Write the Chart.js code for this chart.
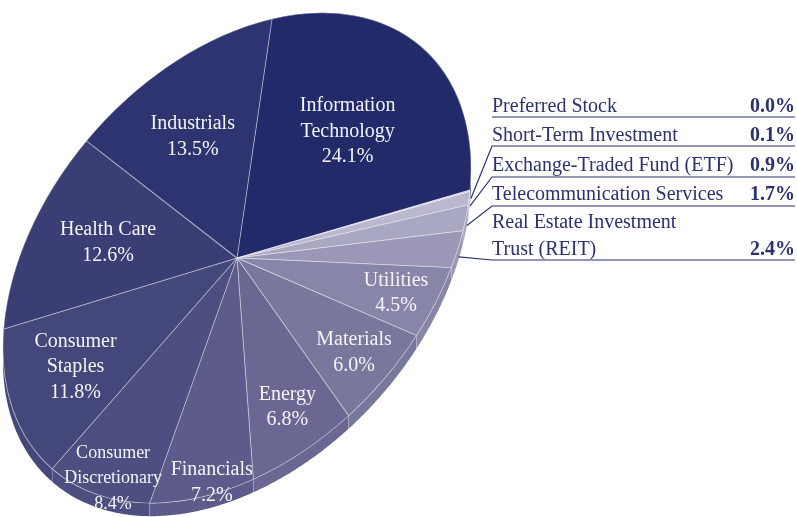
<!DOCTYPE html>
<html lang="en">
<head>
<meta charset="UTF-8">
<title>Sector Allocation</title>
<script src="https://cdn.jsdelivr.net/npm/chart.js"></script>
<style>
    body { margin: 0; background: #ffffff; }
    .wrap { width: 797px; height: 517px; }
</style>
</head>
<body>
<div class="wrap"><canvas id="sectorChart" width="797" height="517"></canvas></div>
<script>
// slices run clockwise from 12 o'clock, starting with Information Technology
const sectors = ['Information Technology', 'Preferred Stock', 'Short-Term Investment',
    'Exchange-Traded Fund (ETF)', 'Telecommunication Services', 'Real Estate Investment Trust (REIT)',
    'Utilities', 'Materials', 'Energy', 'Financials', 'Consumer Discretionary',
    'Consumer Staples', 'Health Care', 'Industrials'];
const weights = [24.1, 0.0, 0.1, 0.9, 1.7, 2.4, 4.5, 6.0, 6.8, 7.2, 8.4, 11.8, 12.6, 13.5];
const sliceColors = ['#222a69', '#d2d1e1', '#c8c7da', '#b9b8cf', '#a9a8c2', '#9a98b6',
    '#8886a8', '#78779c', '#6a6892', '#5c5b89', '#4e4f81', '#44477a', '#3a3e75', '#2e346f'];

// text shown inside the pie (index -> lines before the percentage)
const insideText = {
    0: ['Information', 'Technology'],
    6: ['Utilities'],
    7: ['Materials'],
    8: ['Energy'],
    9: ['Financials'],
    10: ['Consumer', 'Discretionary'],
    11: ['Consumer', 'Staples'],
    12: ['Health Care'],
    13: ['Industrials']
};
// text shown in the call-out list on the right
const calloutText = {
    1: ['Preferred Stock'],
    2: ['Short-Term Investment'],
    3: ['Exchange-Traded Fund (ETF)'],
    4: ['Telecommunication Services'],
    5: ['Real Estate Investment', 'Trust (REIT)']
};

// look of the tilted disc
const pieCenter = [237, 258];
const tiltA = [35, -239];      // screen vector for 12 o'clock
const tiltB = [231.4, -54.6];  // screen vector for 3 o'clock
const depth = 13;

// label placement: radius fraction, font size, nudge
const insideStyle = {
    0: { f: 0.6, size: 20 }, 6: { f: 0.8, size: 20 }, 7: { f: 0.79, size: 20 },
    8: { f: 0.77, size: 20 }, 9: { f: 0.94, size: 20, dx: 9 }, 10: { f: 0.9, size: 18, dy: 8, dx: 3 },
    11: { f: 0.72, size: 20 }, 12: { f: 0.62, size: 20 }, 13: { f: 0.62, size: 20, dx: -5 }
};
const calloutRows = {
    1: { base: [112], rule: 117 },
    2: { base: [141], rule: 146 },
    3: { base: [171], rule: 177 },
    4: { base: [200], rule: 206 },
    5: { base: [228, 255], rule: 260 }
};
const navy = '#2c3170';

function project(arc, px, py) {
    const r = arc.outerRadius;
    const lx = px - arc.x, ly = py - arc.y;
    return [pieCenter[0] + (tiltB[0] * lx - tiltA[0] * ly) / r,
            pieCenter[1] + (tiltB[1] * lx - tiltA[1] * ly) / r];
}

function applyTilt(ctx, arc) {
    const r = arc.outerRadius;
    ctx.translate(pieCenter[0], pieCenter[1]);
    ctx.transform(tiltB[0] / r, tiltB[1] / r, -tiltA[0] / r, -tiltA[1] / r, 0, 0);
    ctx.translate(-arc.x, -arc.y);
}

function rimPoint(arc, angle, frac) {
    const rr = arc.outerRadius * frac;
    return project(arc, arc.x + rr * Math.cos(angle), arc.y + rr * Math.sin(angle));
}

const tiltPlugin = {
    id: 'tilt',
    beforeDatasetsDraw(chart) {
        const ctx = chart.ctx;
        const arcs = chart.getDatasetMeta(0).data;
        // side wall of the disc
        arcs.forEach((arc, i) => {
            if (arc.endAngle - arc.startAngle <= 0) return;
            const n = 40;
            const pts = [];
            for (let k = 0; k <= n; k++) {
                const a = arc.startAngle + (arc.endAngle - arc.startAngle) * k / n;
                pts.push(rimPoint(arc, a, 1));
            }
            ctx.beginPath();
            pts.forEach((p, k) => k ? ctx.lineTo(p[0], p[1]) : ctx.moveTo(p[0], p[1]));
            for (let k = n; k >= 0; k--) ctx.lineTo(pts[k][0], pts[k][1] + depth);
            ctx.closePath();
            ctx.fillStyle = sliceColors[i];
            ctx.fill();
            // seam at the slice edge
            ctx.beginPath();
            ctx.moveTo(pts[0][0], pts[0][1]);
            ctx.lineTo(pts[0][0], pts[0][1] + depth);
            ctx.strokeStyle = 'rgba(255,255,255,0.25)';
            ctx.lineWidth = 0.8;
            ctx.stroke();
        });
        ctx.save();
        applyTilt(ctx, arcs[0]);
    },
    afterDatasetsDraw(chart) {
        const ctx = chart.ctx;
        ctx.restore();
        const arcs = chart.getDatasetMeta(0).data;

        // labels inside the slices
        ctx.fillStyle = '#f4f4f8';
        ctx.textAlign = 'center';
        ctx.textBaseline = 'middle';
        Object.keys(insideText).forEach(key => {
            const i = +key;
            const arc = arcs[i];
            const st = insideStyle[i];
            const mid = (arc.startAngle + arc.endAngle) / 2;
            const p = rimPoint(arc, mid, st.f);
            const lines = insideText[i].concat([weights[i].toFixed(1) + '%']);
            const lh = 25.5;
            ctx.font = st.size + 'px "Liberation Serif", serif';
            lines.forEach((t, k) => {
                ctx.fillText(t, p[0] + (st.dx || 0), p[1] + (st.dy || 0) + (k - (lines.length - 1) / 2) * lh);
            });
        });

        // call-out list on the right
        const left = 492, right = 795;
        ctx.textBaseline = 'alphabetic';
        ctx.strokeStyle = navy;
        ctx.lineWidth = 1.2;
        Object.keys(calloutText).forEach(key => {
            const i = +key;
            const row = calloutRows[i];
            ctx.fillStyle = navy;
            ctx.font = '20px "Liberation Serif", serif';
            ctx.textAlign = 'left';
            calloutText[i].forEach((t, k) => ctx.fillText(t, left, row.base[k]));
            ctx.font = 'bold 20px "Liberation Serif", serif';
            ctx.textAlign = 'right';
            ctx.fillText(weights[i].toFixed(1) + '%', right, row.base[row.base.length - 1]);

            ctx.beginPath();
            ctx.moveTo(right, row.rule);
            ctx.lineTo(left, row.rule);
            if (weights[i] > 0) {
                const arc = arcs[i];
                const e = rimPoint(arc, (arc.startAngle + arc.endAngle) / 2, 1);
                ctx.lineTo(e[0] + 1, e[1] + depth * 0.6);
            }
            ctx.stroke();
        });
    }
};

new Chart(document.getElementById('sectorChart'), {
    type: 'pie',
    data: {
        labels: sectors,
        datasets: [{
            data: weights,
            backgroundColor: sliceColors,
            borderColor: 'rgba(255,255,255,0.4)',
            borderWidth: 1,
            clip: false
        }]
    },
    options: {
        responsive: false,
        animation: false,
        layout: { padding: 0 },
        plugins: {
            legend: { display: false },
            tooltip: { enabled: false }
        }
    },
    plugins: [tiltPlugin]
});
</script>
</body>
</html>
